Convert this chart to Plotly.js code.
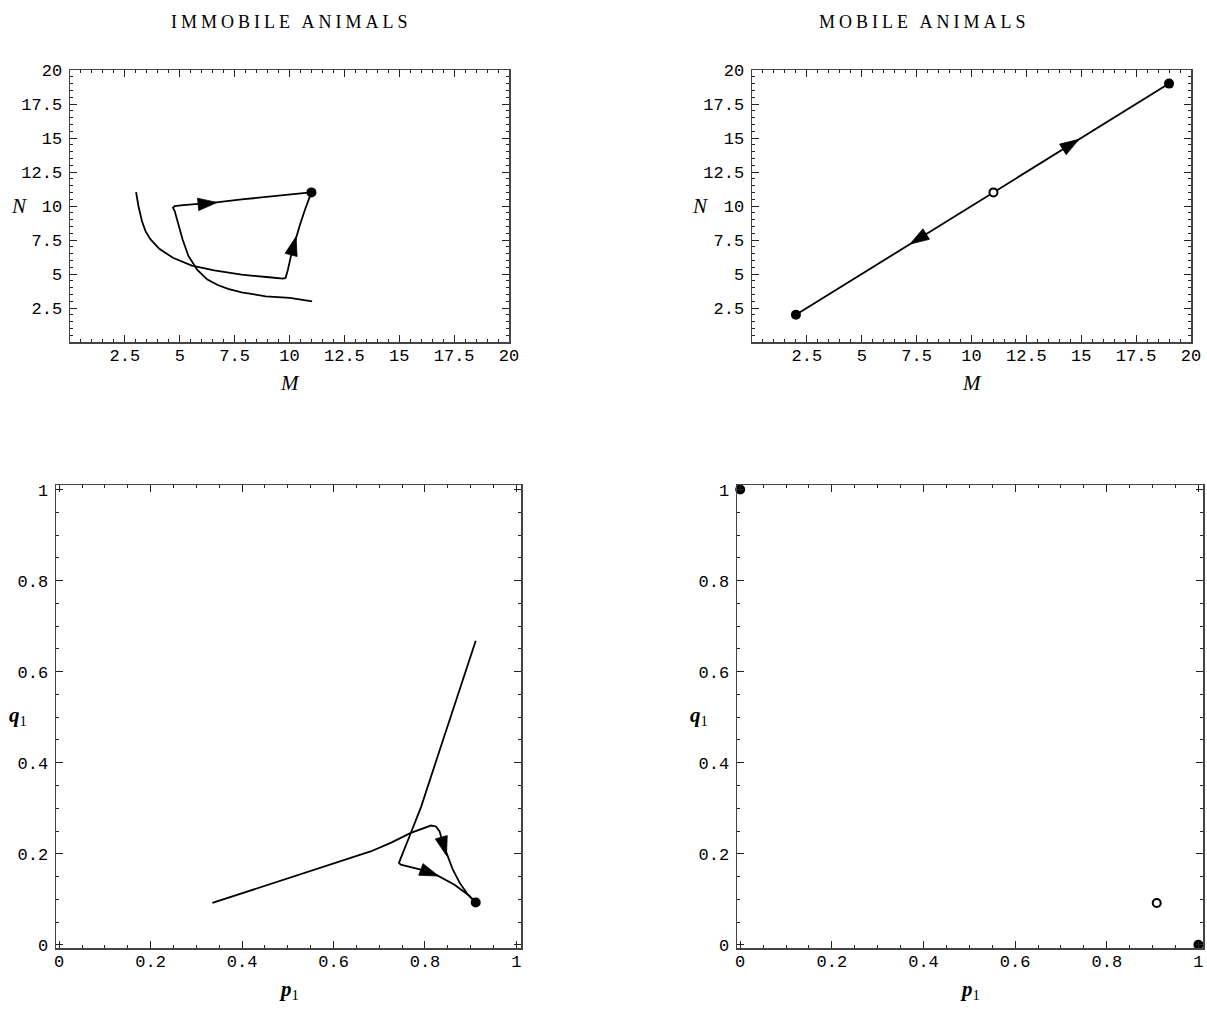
<!DOCTYPE html>
<html><head><meta charset="utf-8">
<script src="https://cdn.plot.ly/plotly-3.0.1.min.js"></script>
<style>body{margin:0;background:#fff}</style>
</head><body>
<div id="chart" style="width:1207px;height:1009px"></div>
<script>
// ---------- DATA ----------
// Top-left: immobile animals, (M, N) trajectories
const immA_M = [3.01, 3.12, 3.28, 3.44, 3.67, 4.07, 4.69, 5.55, 6.57, 7.82, 9.07, 9.70, 9.82, 9.93, 10.09, 10.29, 10.48, 10.72, 11.0];
const immA_N = [11.02, 9.98, 8.87, 8.15, 7.54, 6.85, 6.19, 5.62, 5.27, 4.95, 4.76, 4.66, 4.71, 5.33, 6.50, 7.66, 8.64, 9.80, 11.0];
const immB_M = [11.03, 10.01, 8.92, 7.82, 7.20, 6.73, 6.26, 5.79, 5.55, 5.40, 5.13, 4.92, 4.77, 4.69, 4.77, 5.16, 6.57, 7.82, 9.38, 10.56, 10.85];
const immB_N = [2.99, 3.24, 3.36, 3.65, 3.90, 4.19, 4.59, 5.32, 5.94, 6.31, 7.54, 8.77, 9.63, 9.87, 9.99, 10.07, 10.25, 10.48, 10.73, 10.93, 10.98];
const immEq_M = [11.0];
const immEq_N = [11.0];
// arrow heads: [previous point, tip]
const immArrows = [
  {M: [5.6, 6.7], N: [10.08, 10.26]},
  {M: [10.09, 10.3], N: [6.5, 7.75]}
];
// Top-right: mobile animals
const mobLine_M = [2, 11, 19];
const mobLine_N = [2, 11, 19];
const mobStable_M = [2, 19];
const mobStable_N = [2, 19];
const mobUnstable_M = [11];
const mobUnstable_N = [11];
const mobArrows = [
  {M: [8.3, 7.2], N: [8.3, 7.2]},
  {M: [13.8, 14.9], N: [13.8, 14.9]}
];
// Bottom-left: immobile animals, (p1, q1)
const immC_p = [0.335, 0.681, 0.725, 0.769, 0.813, 0.824, 0.832, 0.839, 0.8485, 0.861, 0.876, 0.894, 0.911];
const immC_q = [0.092, 0.205, 0.224, 0.246, 0.262, 0.260, 0.249, 0.224, 0.198, 0.165, 0.136, 0.110, 0.093];
const immD_p = [0.911, 0.870, 0.831, 0.7915, 0.777, 0.766, 0.7545, 0.746, 0.743, 0.747, 0.791, 0.828, 0.8646, 0.894, 0.911];
const immD_q = [0.668, 0.545, 0.424, 0.303, 0.268, 0.238, 0.209, 0.187, 0.180, 0.176, 0.165, 0.152, 0.132, 0.110, 0.093];
const immPQ_eq_p = [0.911];
const immPQ_eq_q = [0.093];
const immPQArrows = [
  {p: [0.836, 0.847], q: [0.235, 0.196]},
  {p: [0.79, 0.83], q: [0.166, 0.151]}
];
// Bottom-right: mobile animals
const mobPQ_stable_p = [0, 1];
const mobPQ_stable_q = [1, 0];
const mobPQ_unstable_p = [0.909];
const mobPQ_unstable_q = [0.092];

// tick labels
const mnTicks = [2.5, 5, 7.5, 10, 12.5, 15, 17.5, 20];
const mnTickText = ['2.5', '5', '7.5', '10', '12.5', '15', '17.5', '20'];
const pqTicks = [0, 0.2, 0.4, 0.6, 0.8, 1];
const pqTickText = ['0', '0.2', '0.4', '0.6', '0.8', '1'];

// ---------- LAYOUT HELPERS ----------
const W = 1207, H = 1009;
const fx = v => v / W;
const fy = v => 1 - v / H;

function axis(d0, d1, range, tv, tt, minorD, isY, anchor) {
  return {
    domain: isY ? [fy(d1), fy(d0)] : [fx(d0), fx(d1)],
    anchor: anchor,
    range: range,
    tickmode: 'array', tickvals: tv, ticktext: tt,
    ticks: 'inside', ticklen: 7, tickwidth: 1, tickcolor: '#222',
    showline: true, linecolor: '#444', linewidth: 1.5, mirror: 'ticks',
    showgrid: false, zeroline: false, fixedrange: true,
    minor: {tickmode: 'linear', tick0: 0, dtick: minorD, ticks: 'inside', ticklen: 3, tickwidth: 1, tickcolor: '#222', showgrid: false},
    tickfont: {family: 'Liberation Mono, monospace', size: 17, color: '#000'},
    ticklabelstandoff: isY ? 3 : -3
  };
}

const lineStyle = {color: '#000', width: 1.8};
const traces = [];
function addLine(x, y, xa, ya) {
  traces.push({x, y, xaxis: xa, yaxis: ya, mode: 'lines', line: lineStyle, hoverinfo: 'skip', showlegend: false});
}
function addArrow(x, y, xa, ya) {
  traces.push({x, y, xaxis: xa, yaxis: ya, mode: 'markers', cliponaxis: false,
    marker: {symbol: 'arrow', angleref: 'previous', size: [0, 20], color: '#000', opacity: 1, line: {color: '#000', width: 0.8}},
    hoverinfo: 'skip', showlegend: false});
}
function addDots(x, y, xa, ya, open) {
  traces.push({x, y, xaxis: xa, yaxis: ya, mode: 'markers', cliponaxis: false,
    marker: open ? {symbol: 'circle', size: 8, color: '#fff', line: {color: '#000', width: 2}}
                 : {symbol: 'circle', size: 10, color: '#000', line: {width: 0}},
    hoverinfo: 'skip', showlegend: false});
}

// TL
addLine(immA_M, immA_N, 'x', 'y');
addLine(immB_M, immB_N, 'x', 'y');
immArrows.forEach(a => addArrow(a.M, a.N, 'x', 'y'));
addDots(immEq_M, immEq_N, 'x', 'y', false);
// TR
addLine(mobLine_M, mobLine_N, 'x2', 'y2');
mobArrows.forEach(a => addArrow(a.M, a.N, 'x2', 'y2'));
addDots(mobStable_M, mobStable_N, 'x2', 'y2', false);
addDots(mobUnstable_M, mobUnstable_N, 'x2', 'y2', true);
// BL
addLine(immC_p, immC_q, 'x3', 'y3');
addLine(immD_p, immD_q, 'x3', 'y3');
immPQArrows.forEach(a => addArrow(a.p, a.q, 'x3', 'y3'));
addDots(immPQ_eq_p, immPQ_eq_q, 'x3', 'y3', false);
// BR
addDots(mobPQ_stable_p, mobPQ_stable_q, 'x4', 'y4', false);
addDots(mobPQ_unstable_p, mobPQ_unstable_q, 'x4', 'y4', true);

const serif = 'Liberation Serif, Times New Roman, serif';
function ann(text, x, y, size) {
  return {text, xref: 'paper', yref: 'paper', x: fx(x), y: fy(y), xanchor: 'center', yanchor: 'middle',
    showarrow: false, font: {family: serif, size: size, color: '#000'}};
}

const layout = {
  width: W, height: H,
  margin: {l: 0, r: 0, t: 0, b: 0},
  paper_bgcolor: '#fff', plot_bgcolor: '#fff',
  showlegend: false,
  xaxis: axis(70, 509, [0, 20], mnTicks, mnTickText, 0.5, false, 'y'),
  yaxis: axis(70, 342, [0, 20], mnTicks, mnTickText, 0.5, true, 'x'),
  xaxis2: axis(752, 1191, [0, 20], mnTicks, mnTickText, 0.5, false, 'y2'),
  yaxis2: axis(70, 342, [0, 20], mnTicks, mnTickText, 0.5, true, 'x2'),
  xaxis3: axis(56, 521, [-0.007, 1.01], pqTicks, pqTickText, 0.05, false, 'y3'),
  yaxis3: axis(485, 948, [-0.007, 1.01], pqTicks, pqTickText, 0.05, true, 'x3'),
  xaxis4: axis(737, 1203, [-0.007, 1.01], pqTicks, pqTickText, 0.05, false, 'y4'),
  yaxis4: axis(485, 948, [-0.007, 1.01], pqTicks, pqTickText, 0.05, true, 'x4'),
  annotations: [
    ann('<span style="letter-spacing:4px">IMMOBILE ANIMALS</span>', 291, 22, 18),
    ann('<span style="letter-spacing:4px">MOBILE ANIMALS</span>', 924, 22, 18),
    ann('<i>N</i>', 19, 206, 21),
    ann('<i>M</i>', 289.5, 383, 21),
    ann('<i>N</i>', 700, 206, 21),
    ann('<i>M</i>', 971.5, 383, 21),
    ann('<b><i>q</i></b><sub>1</sub>', 18, 716, 21),
    ann('<b><i>p</i></b><sub>1</sub>', 288.5, 990, 21),
    ann('<b><i>q</i></b><sub>1</sub>', 699, 716, 21),
    ann('<b><i>p</i></b><sub>1</sub>', 970, 990, 21)
  ]
};

Plotly.newPlot('chart', traces, layout, {staticPlot: true, displayModeBar: false});
</script>
</body></html>
